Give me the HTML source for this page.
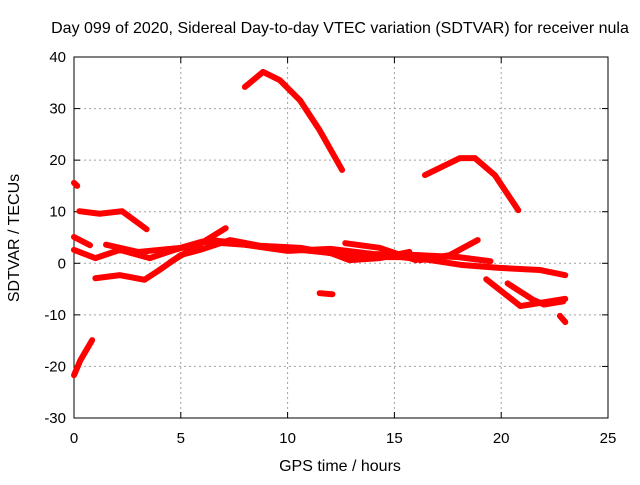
<!DOCTYPE html>
<html><head><meta charset="utf-8"><style>
body{margin:0;background:#fff;}
svg{font-family:"Liberation Sans",sans-serif;}
</style></head><body>
<svg width="640" height="480">
<rect width="640" height="480" fill="#fff"/>
<text x="340" y="33" font-size="16" text-anchor="middle">Day 099 of 2020, Sidereal Day-to-day VTEC variation (SDTVAR) for receiver nula</text>
<g id="grid"></g>
<g id="axes"></g>
<g id="series"></g>
<text x="340" y="471" font-size="16" text-anchor="middle">GPS time / hours</text>
<text transform="translate(19,238) rotate(-90)" font-size="16" text-anchor="middle">SDTVAR / TECUs</text>
</svg>
<script>
const xTicks=[0,5,10,15,20,25];
const yTicks=[-30,-20,-10,0,10,20,30,40];
const trackTopX=[8.0,8.85,9.64,10.58,11.5,12.55];
const trackTopY=[34.2,37.1,35.5,31.6,25.8,18.1];
const trackRightX=[16.43,18.07,18.77,19.7,20.8];
const trackRightY=[17.1,20.4,20.4,17.1,10.3];
const track3X=[0,0.15];const track3Y=[15.6,15.0];
const track4X=[0.25,1.2,2.25,3.4];const track4Y=[10.1,9.6,10.1,6.6];
const track5X=[0,0.3,0.85];const track5Y=[-21.7,-18.8,-14.9];
const track6X=[0,0.75];const track6Y=[5.1,3.5];
const trackAX=[0,1,2.15,3.55,4.7,6.4,7.8,9.2,10.6,12,12.9,14.3,15.7];
const trackAY=[2.6,1.0,2.6,1.0,2.6,4.5,3.9,3.0,2.6,2.0,0.6,1.0,2.2];
const trackA2X=[1.5,3,5,6,8,10,12,14,16,18,19.5];
const trackA2Y=[3.6,2.2,3.0,4.2,3.6,2.4,2.8,1.8,1.6,1.2,0.4];
const trackBX=[1.0,2.15,3.3,4.0,5.0,5.9,7.3,8.7,10.6,12.5,13.9,15.3,16.7,18.1,19.9,21.8,23];
const trackBY=[-2.9,-2.3,-3.2,-1.3,1.6,2.6,4.5,3.4,3.0,1.6,1.2,1.2,0.6,-0.3,-0.9,-1.3,-2.3];
const trackCX=[16.2,17.6,18.9];const trackCY=[0.6,1.6,4.5];
const trackDX=[4.5,7.1];const trackDY=[0.2,6.8];
const trackEX=[19.3,20.9,21.8,23];const trackEY=[-3.1,-8.3,-7.7,-6.9];
const trackFX=[20.3,21.5,22,22.9];const trackFY=[-3.9,-7.1,-8.0,-7.4];
const trackGX=[11.5,12.1];const trackGY=[-5.8,-6.0];
const trackHX=[22.75,23];const trackHY=[-10.2,-11.4];
const trackIX=[12.7,14.3,16];const trackIY=[3.9,3.0,0.6];
const tracks=[[trackTopX,trackTopY],[trackRightX,trackRightY],[track3X,track3Y],[track4X,track4Y],[track5X,track5Y],[track6X,track6Y],[trackAX,trackAY],[trackA2X,trackA2Y],[trackBX,trackBY],[trackCX,trackCY],[trackDX,trackDY],[trackEX,trackEY],[trackFX,trackFY],[trackGX,trackGY],[trackHX,trackHY],[trackIX,trackIY]];
const L=74,R=608,T=57,B=418,ns="http://www.w3.org/2000/svg";
const sx=v=>L+(v-0)/25*(R-L), sy=v=>B-(v+30)/70*(B-T);
const grid=document.getElementById('grid'),axes=document.getElementById('axes'),ser=document.getElementById('series');
function mk(t,a,p){const e=document.createElementNS(ns,t);for(const k in a)e.setAttribute(k,a[k]);p.appendChild(e);return e;}
xTicks.forEach(v=>{const x=sx(v);
 if(v>0&&v<25){const g=mk('line',{x1:x,x2:x,y1:T,y2:B,stroke:'#a0a0a0','stroke-dasharray':'2,3','stroke-width':1},grid);
 }
 mk('line',{x1:x,x2:x,y1:B,y2:B-6,stroke:'#000'},axes);mk('line',{x1:x,x2:x,y1:T,y2:T+6,stroke:'#000'},axes);
 const t=mk('text',{x:x,y:B+25,'font-size':15,'text-anchor':'middle'},axes);t.textContent=v;
 });
yTicks.forEach(v=>{const y=sy(v);
 if(v>-30&&v<40){const g=mk('line',{x1:L,x2:R,y1:y,y2:y,stroke:'#a0a0a0','stroke-dasharray':'2,3','stroke-width':1},grid);
 }
 mk('line',{x1:L,x2:L+6,y1:y,y2:y,stroke:'#000'},axes);mk('line',{x1:R,x2:R-6,y1:y,y2:y,stroke:'#000'},axes);
 const t=mk('text',{x:L-8,y:y+5,'font-size':15,'text-anchor':'end'},axes);t.textContent=v;
 });
const fr=mk('rect',{x:L,y:T,width:R-L,height:B-T,fill:'none',stroke:'#000'},axes);

tracks.forEach(([xs,ys])=>{const pts=xs.map((x,i)=>sx(x)+','+sy(ys[i])).join(' ');
 const p=mk('polyline',{points:pts,fill:'none',stroke:'#ff0000','stroke-width':6,'stroke-linejoin':'round','stroke-linecap':'round'},ser);
 });
</script>
</body></html>
